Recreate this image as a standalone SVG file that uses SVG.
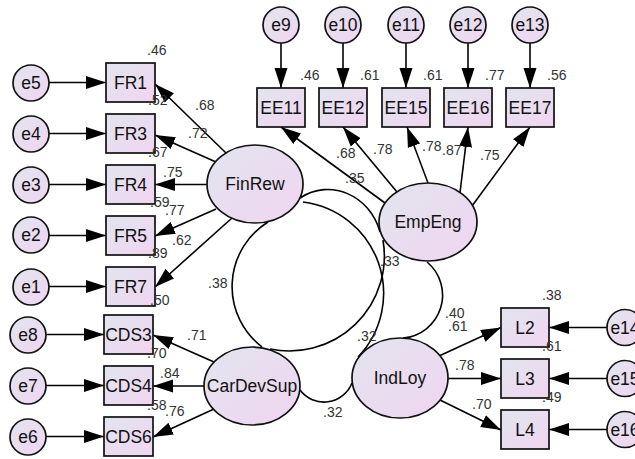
<svg xmlns="http://www.w3.org/2000/svg" width="635" height="459" viewBox="0 0 635 459">
  <defs>
    <linearGradient id="shade" x1="0" y1="0" x2="1" y2="1">
      <stop offset="0" stop-color="#e1e5ee"/>
      <stop offset="1" stop-color="#f1d5f1"/>
    </linearGradient>
    <marker id="head" markerUnits="userSpaceOnUse" markerWidth="20" markerHeight="14" refX="20" refY="7" orient="auto">
      <path d="M0,0.5 L20,7 L0,13.5 z" fill="#000"/>
    </marker>
    <style>
      .shape { fill: url(#shade); stroke: #111; stroke-width: 1.7; }
      .name { font-family: "Liberation Sans", Arial, sans-serif; font-size: 17.5px; fill: #111; text-anchor: middle; }
      .num { font-family: "Liberation Sans", Arial, sans-serif; font-size: 14px; fill: #333; }
      .path { stroke: #000; stroke-width: 1.6; fill: none; marker-end: url(#head); }
      .cov { stroke: #000; stroke-width: 1.6; fill: none; }
    </style>
  </defs>
  <rect width="635" height="459" fill="#fff"/>

  <!-- paths and covariances -->
  <g id="connectors">
    <!-- error terms to indicators -->
    <line class="path" x1="49" y1="82.5" x2="106" y2="82.5"/>
    <line class="path" x1="49" y1="133.5" x2="106" y2="133.5"/>
    <line class="path" x1="49" y1="184.5" x2="106" y2="184.5"/>
    <line class="path" x1="49" y1="235.5" x2="106" y2="235.5"/>
    <line class="path" x1="49" y1="286.5" x2="106" y2="286.5"/>
    <line class="path" x1="46" y1="334.5" x2="104" y2="334.5"/>
    <line class="path" x1="46" y1="385.5" x2="104" y2="385.5"/>
    <line class="path" x1="46" y1="436.5" x2="104" y2="436.5"/>
    <line class="path" x1="281" y1="43" x2="281" y2="88"/>
    <line class="path" x1="343" y1="43" x2="343" y2="88"/>
    <line class="path" x1="406" y1="43" x2="406" y2="88"/>
    <line class="path" x1="468" y1="43" x2="468" y2="88"/>
    <line class="path" x1="530" y1="43" x2="530" y2="88"/>
    <line class="path" x1="607" y1="327.5" x2="549" y2="327.5"/>
    <line class="path" x1="607" y1="378.5" x2="549" y2="378.5"/>
    <line class="path" x1="607" y1="429.5" x2="549" y2="429.5"/>

    <!-- FinRew loadings -->
    <line class="path" x1="226" y1="153" x2="155" y2="84"/>
    <line class="path" x1="216" y1="162" x2="155" y2="135"/>
    <line class="path" x1="207" y1="184.5" x2="155" y2="184.5"/>
    <line class="path" x1="216" y1="209" x2="155" y2="236"/>
    <line class="path" x1="232" y1="218" x2="155" y2="287"/>

    <!-- CarDevSup loadings -->
    <line class="path" x1="214" y1="362" x2="153" y2="335"/>
    <line class="path" x1="204" y1="386" x2="153" y2="386"/>
    <line class="path" x1="214" y1="409" x2="153" y2="437"/>

    <!-- EmpEng loadings -->
    <line class="path" x1="385" y1="203" x2="281" y2="127"/>
    <line class="path" x1="397" y1="192" x2="343" y2="127"/>
    <line class="path" x1="428" y1="183" x2="407" y2="127"/>
    <line class="path" x1="460" y1="192.5" x2="468" y2="127"/>
    <line class="path" x1="472" y1="206" x2="530" y2="127"/>

    <!-- IndLoy loadings -->
    <line class="path" x1="439" y1="356" x2="501" y2="327.5"/>
    <line class="path" x1="448" y1="378.5" x2="501" y2="378.5"/>
    <line class="path" x1="440" y1="400" x2="501" y2="430"/>

    <!-- covariances between latent factors -->
    <path class="cov" d="M268,222 A76,76 0 0 0 262,347"/>
    <path class="cov" d="M300,198 C330,178 370,195 380,232"/>
    <path class="cov" d="M303,202 A92,92 0 0 1 358,357"/>
    <path class="cov" d="M383,240 A95,95 0 0 1 270,349"/>
    <path class="cov" d="M427,262 A43,43 0 0 1 403,338"/>
    <path class="cov" d="M300,390 A30,30 0 0 0 352,383"/>
  </g>

  <!-- latent factors -->
  <g id="FinRew"><ellipse class="shape" cx="255" cy="184" rx="48" ry="39"/><text class="name" x="255" y="190">FinRew</text></g>
  <g id="EmpEng"><ellipse class="shape" cx="428" cy="222" rx="49" ry="39"/><text class="name" x="428" y="228">EmpEng</text></g>
  <g id="CarDevSup"><ellipse class="shape" cx="252" cy="386" rx="48" ry="39"/><text class="name" x="252" y="392">CarDevSup</text></g>
  <g id="IndLoy"><ellipse class="shape" cx="400" cy="378" rx="48" ry="40"/><text class="name" x="400" y="384">IndLoy</text></g>

  <!-- observed indicators -->
  <g id="FR1"><rect class="shape" x="106" y="63" width="49" height="39"/><text class="name" x="130.5" y="89">FR1</text></g>
  <g id="FR3"><rect class="shape" x="106" y="114" width="49" height="39"/><text class="name" x="130.5" y="140">FR3</text></g>
  <g id="FR4"><rect class="shape" x="106" y="165" width="49" height="39"/><text class="name" x="130.5" y="191">FR4</text></g>
  <g id="FR5"><rect class="shape" x="106" y="216" width="49" height="39"/><text class="name" x="130.5" y="242">FR5</text></g>
  <g id="FR7"><rect class="shape" x="106" y="267" width="49" height="39"/><text class="name" x="130.5" y="293">FR7</text></g>
  <g id="CDS3"><rect class="shape" x="104" y="315" width="49" height="39"/><text class="name" x="128.5" y="341">CDS3</text></g>
  <g id="CDS4"><rect class="shape" x="104" y="366" width="49" height="39"/><text class="name" x="128.5" y="392">CDS4</text></g>
  <g id="CDS6"><rect class="shape" x="104" y="417" width="49" height="39"/><text class="name" x="128.5" y="443">CDS6</text></g>
  <g id="EE11"><rect class="shape" x="257" y="88" width="48" height="39"/><text class="name" x="281" y="114">EE11</text></g>
  <g id="EE12"><rect class="shape" x="319" y="88" width="48" height="39"/><text class="name" x="343" y="114">EE12</text></g>
  <g id="EE15"><rect class="shape" x="382" y="88" width="48" height="39"/><text class="name" x="406" y="114">EE15</text></g>
  <g id="EE16"><rect class="shape" x="444" y="88" width="48" height="39"/><text class="name" x="468" y="114">EE16</text></g>
  <g id="EE17"><rect class="shape" x="506" y="88" width="48" height="39"/><text class="name" x="530" y="114">EE17</text></g>
  <g id="L2"><rect class="shape" x="501" y="308" width="48" height="39"/><text class="name" x="525" y="334">L2</text></g>
  <g id="L3"><rect class="shape" x="501" y="359" width="48" height="39"/><text class="name" x="525" y="385">L3</text></g>
  <g id="L4"><rect class="shape" x="501" y="410" width="48" height="39"/><text class="name" x="525" y="436">L4</text></g>

  <!-- error terms -->
  <g id="e5"><circle class="shape" cx="31" cy="83" r="18"/><text class="name" x="31" y="89">e5</text></g>
  <g id="e4"><circle class="shape" cx="31" cy="134" r="18"/><text class="name" x="31" y="140">e4</text></g>
  <g id="e3"><circle class="shape" cx="31" cy="185" r="18"/><text class="name" x="31" y="191">e3</text></g>
  <g id="e2"><circle class="shape" cx="31" cy="235" r="18"/><text class="name" x="31" y="241">e2</text></g>
  <g id="e1"><circle class="shape" cx="31" cy="287" r="18"/><text class="name" x="31" y="293">e1</text></g>
  <g id="e8"><circle class="shape" cx="28" cy="335" r="18"/><text class="name" x="28" y="341">e8</text></g>
  <g id="e7"><circle class="shape" cx="28" cy="386" r="18"/><text class="name" x="28" y="392">e7</text></g>
  <g id="e6"><circle class="shape" cx="28" cy="437" r="18"/><text class="name" x="28" y="443">e6</text></g>
  <g id="e9"><circle class="shape" cx="281" cy="25" r="18"/><text class="name" x="281" y="31">e9</text></g>
  <g id="e10"><circle class="shape" cx="343" cy="25" r="18"/><text class="name" x="343" y="31">e10</text></g>
  <g id="e11"><circle class="shape" cx="406" cy="25" r="18"/><text class="name" x="406" y="31">e11</text></g>
  <g id="e12"><circle class="shape" cx="468" cy="25" r="18"/><text class="name" x="468" y="31">e12</text></g>
  <g id="e13"><circle class="shape" cx="530" cy="25" r="18"/><text class="name" x="530" y="31">e13</text></g>
  <g id="e14"><circle class="shape" cx="625" cy="327.5" r="18"/><text class="name" x="625" y="334">e14</text></g>
  <g id="e15"><circle class="shape" cx="625" cy="378.5" r="18"/><text class="name" x="625" y="385">e15</text></g>
  <g id="e16"><circle class="shape" cx="625" cy="429.5" r="18"/><text class="name" x="625" y="436">e16</text></g>

  <!-- estimates -->
  <g id="estimates">
    <text class="num" x="147" y="55">.46</text>
    <text class="num" x="148" y="105">.52</text>
    <text class="num" x="195" y="110">.68</text>
    <text class="num" x="188" y="138">.72</text>
    <text class="num" x="148" y="157">.67</text>
    <text class="num" x="163" y="177">.75</text>
    <text class="num" x="150" y="207">.59</text>
    <text class="num" x="165" y="215">.77</text>
    <text class="num" x="172" y="245">.62</text>
    <text class="num" x="148" y="258">.89</text>
    <text class="num" x="150" y="305">.50</text>
    <text class="num" x="208" y="288">.38</text>
    <text class="num" x="187" y="340">.71</text>
    <text class="num" x="147" y="358">.70</text>
    <text class="num" x="160" y="378">.84</text>
    <text class="num" x="147" y="410">.58</text>
    <text class="num" x="165" y="416">.76</text>

    <text class="num" x="300" y="80">.46</text>
    <text class="num" x="360" y="80">.61</text>
    <text class="num" x="423" y="80">.61</text>
    <text class="num" x="485" y="80">.77</text>
    <text class="num" x="547" y="80">.56</text>
    <text class="num" x="336" y="158">.68</text>
    <text class="num" x="373" y="154">.78</text>
    <text class="num" x="422" y="151">.78</text>
    <text class="num" x="442" y="155">.87</text>
    <text class="num" x="480" y="160">.75</text>
    <text class="num" x="345" y="183">.35</text>

    <text class="num" x="380" y="266">.33</text>
    <text class="num" x="357" y="341">.32</text>
    <text class="num" x="445" y="318">.40</text>
    <text class="num" x="448" y="331">.61</text>
    <text class="num" x="542" y="300">.38</text>
    <text class="num" x="542" y="351">.61</text>
    <text class="num" x="455" y="370">.78</text>
    <text class="num" x="542" y="402">.49</text>
    <text class="num" x="472" y="409">.70</text>
    <text class="num" x="323" y="417">.32</text>
  </g>
</svg>
